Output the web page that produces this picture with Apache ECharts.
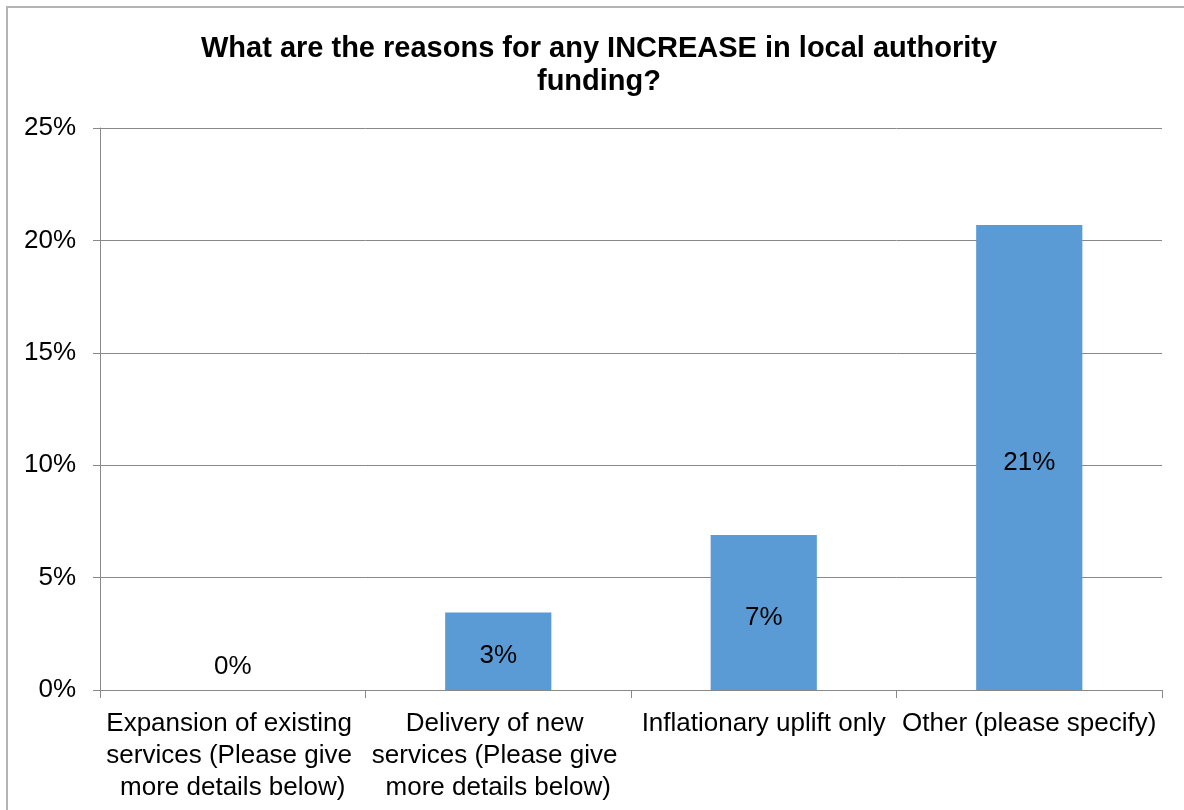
<!DOCTYPE html>
<html>
<head>
<meta charset="utf-8">
<script src="https://cdn.jsdelivr.net/npm/echarts@6/dist/echarts.min.js"></script>
<style>
  html, body { margin: 0; padding: 0; background: #fff; }
  #chart { width: 1184px; height: 810px; }
</style>
</head>
<body>
<div id="chart"></div>
<script>
// Survey responses: reasons for an increase in local authority funding (% of respondents)
const titleText = 'What are the reasons for any INCREASE in local authority\nfunding?';
const categories = [
  'Expansion of existing services (Please give more details below)',
  'Delivery of new services (Please give more details below)',
  'Inflationary uplift only',
  'Other (please specify)'
];
const shares = [0, 3.45, 6.9, 20.69];
const yTicks = { min: 0, max: 25, interval: 5 };

const FONT = '"Liberation Sans", Arial, sans-serif';
const AXIS_GREY = '#898989';

const chart = echarts.init(document.getElementById('chart'), null, { renderer: 'canvas' });

chart.setOption({
  backgroundColor: '#ffffff',
  animation: false,
  graphic: [{
    type: 'rect',
    silent: true,
    shape: { x: 7, y: 7, width: 1300, height: 900 },
    style: { fill: 'none', stroke: '#b4b4b4', lineWidth: 2 }
  }],
  title: {
    text: titleText,
    left: 599,
    top: 32,
    padding: 0,
    textAlign: 'center',
    textStyle: {
      fontFamily: FONT,
      fontSize: 29,
      fontWeight: 'bold',
      lineHeight: 33,
      align: 'center',
      color: '#000'
    }
  },
  grid: { left: 100, right: 22, top: 128, bottom: 120, containLabel: false },
  xAxis: {
    type: 'category',
    data: categories,
    axisLine: { lineStyle: { color: AXIS_GREY, width: 1 } },
    axisTick: { show: true, length: 8, lineStyle: { color: AXIS_GREY } },
    axisLabel: {
      interval: 0,
      margin: 18,
      width: 266,
      overflow: 'break',
      fontFamily: FONT,
      fontSize: 26,
      lineHeight: 32,
      color: '#000',
      align: 'center'
    }
  },
  yAxis: {
    type: 'value',
    min: yTicks.min,
    max: yTicks.max,
    interval: yTicks.interval,
    axisLine: { show: true, lineStyle: { color: AXIS_GREY, width: 1 } },
    axisTick: { show: true, length: 7, lineStyle: { color: AXIS_GREY } },
    splitLine: { show: true, lineStyle: { color: AXIS_GREY, width: 1 } },
    axisLabel: {
      margin: 24,
      fontFamily: FONT,
      fontSize: 26,
      color: '#000',
      formatter: '{value}%'
    }
  },
  series: [{
    type: 'bar',
    barWidth: '40%',
    itemStyle: { color: '#5b9bd5' },
    data: shares.map(v => v === 0
      ? { value: v, label: { position: 'top', distance: 10, offset: [0, 0] } }
      : { value: v }),
    label: {
      show: true,
      position: 'inside',
      offset: [0, 5],
      fontFamily: FONT,
      fontSize: 26,
      color: '#000',
      formatter: p => Math.round(p.value) + '%'
    }
  }]
});
</script>
</body>
</html>
